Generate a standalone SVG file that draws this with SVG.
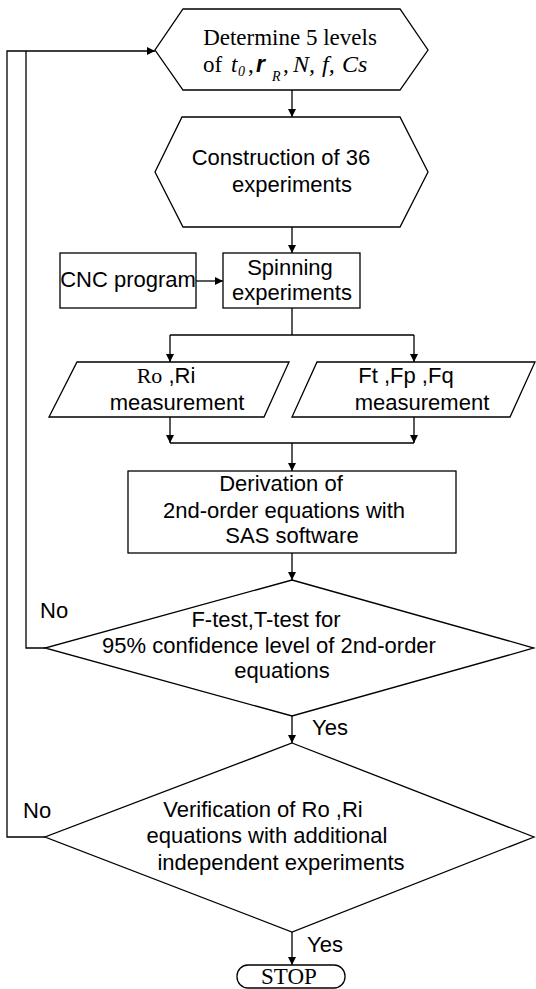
<svg xmlns="http://www.w3.org/2000/svg" width="536" height="989" viewBox="0 0 536 989">
  <style>
    .shape { fill: #ffffff; stroke: #000000; stroke-width: 1.3; }
    .line { fill: none; stroke: #000000; stroke-width: 1.3; }
    .sans { font-family: "Liberation Sans", Arial, sans-serif; font-size: 22px; fill: #000000; }
    .serif { font-family: "Liberation Serif", "Times New Roman", serif; font-size: 23px; fill: #000000; }
    .mid { text-anchor: middle; }
    .it { font-style: italic; }
    .sub { font-size: 14px; }
  </style>
  <defs>
    <marker id="arrow" viewBox="0 0 10 10" refX="10" refY="5" markerUnits="userSpaceOnUse" markerWidth="9" markerHeight="8" orient="auto">
      <path d="M0,0 L10,5 L0,10 z" fill="#000000"/>
    </marker>
  </defs>

  <!-- connectors -->
  <g id="connectors">
    <path class="line" d="M292,90 V117" marker-end="url(#arrow)"/>
    <path class="line" d="M292,227 V253" marker-end="url(#arrow)"/>
    <path class="line" d="M196,281 H223" marker-end="url(#arrow)"/>
    <path class="line" d="M292,308 V335"/>
    <path class="line" d="M170,335 H414"/>
    <path class="line" d="M170,335 V362" marker-end="url(#arrow)"/>
    <path class="line" d="M414,335 V362" marker-end="url(#arrow)"/>
    <path class="line" d="M170,417 V443" marker-end="url(#arrow)"/>
    <path class="line" d="M414,417 V443" marker-end="url(#arrow)"/>
    <path class="line" d="M170,443 H414"/>
    <path class="line" d="M292,443 V471" marker-end="url(#arrow)"/>
    <path class="line" d="M292,553 V580" marker-end="url(#arrow)"/>
    <path class="line" d="M292,716 V743" marker-end="url(#arrow)"/>
    <path class="line" d="M292,932 V965" marker-end="url(#arrow)"/>
    <!-- return loops -->
    <path class="line" d="M45,648 H26 V51"/>
    <path class="line" d="M45,837 H7 V51 H155" marker-end="url(#arrow)"/>
    <text class="sans" x="40" y="618">No</text>
    <text class="sans" x="312" y="735">Yes</text>
    <text class="sans" x="23" y="818">No</text>
    <text class="sans" x="307" y="952">Yes</text>
  </g>

  <g id="levels">
    <polygon class="shape" points="183,9 400,9 428,50 400,90 183,90 155,50"/>
    <text class="serif mid" x="290" y="45">Determine 5 levels</text>
    <text class="serif" y="72"><tspan x="203">of</tspan><tspan class="it" x="231">t</tspan><tspan class="it sub" x="238" y="76">0</tspan><tspan x="248" y="72">,</tspan><tspan class="it" x="256" font-weight="bold" font-family="Liberation Sans, Arial, sans-serif">r</tspan><tspan class="it sub" x="272" y="81">R</tspan><tspan x="283" y="72">,</tspan><tspan class="it" x="293" font-size="24">N,</tspan><tspan class="it" x="322" font-size="24">f,</tspan><tspan class="it" x="342" font-size="24">Cs</tspan></text>
  </g>

  <g id="construction">
    <polygon class="shape" points="182,117 400,117 428,172 400,227 183,227 155,172"/>
    <text class="sans mid" x="281" y="165">Construction of 36</text>
    <text class="sans mid" x="292" y="192">experiments</text>
  </g>

  <g id="cnc">
    <rect class="shape" x="60" y="253" width="136" height="55"/>
    <text class="sans mid" x="128" y="287">CNC program</text>
  </g>

  <g id="spinning">
    <rect class="shape" x="223" y="253" width="137" height="55"/>
    <text class="sans mid" x="290" y="275">Spinning</text>
    <text class="sans mid" x="292" y="300">experiments</text>
  </g>

  <g id="ro-ri">
    <polygon class="shape" points="77,362 289,362 264,417 49,417"/>
    <text class="sans mid" x="166" y="383"><tspan font-family="Liberation Serif, Times New Roman, serif">Ro</tspan> ,Ri</text>
    <text class="sans mid" x="177" y="410">measurement</text>
  </g>

  <g id="forces">
    <polygon class="shape" points="317,362 535,362 510,417 292,417"/>
    <text class="sans mid" x="406" y="383">Ft ,Fp ,Fq</text>
    <text class="sans mid" x="422" y="410">measurement</text>
  </g>

  <g id="derivation">
    <rect class="shape" x="128" y="471" width="328" height="82"/>
    <text class="sans mid" x="281" y="491">Derivation of</text>
    <text class="sans mid" x="284" y="518">2nd-order equations with</text>
    <text class="sans mid" x="292" y="543">SAS software</text>
  </g>

  <g id="significance">
    <polygon class="shape" points="292,580 534,648 292,716 45,648"/>
    <text class="sans mid" x="266" y="627">F-test,T-test for</text>
    <text class="sans mid" x="269" y="653">95% confidence level of 2nd-order</text>
    <text class="sans mid" x="282" y="678">equations</text>
  </g>

  <g id="verification">
    <polygon class="shape" points="292,743 534,837 292,932 45,837"/>
    <text class="sans mid" x="263" y="817">Verification of Ro ,Ri</text>
    <text class="sans mid" x="267" y="843">equations with additional</text>
    <text class="sans mid" x="281" y="870">independent experiments</text>
  </g>

  <g id="stop">
    <rect class="shape" x="237" y="965" width="108" height="23" rx="11" ry="11"/>
    <text class="serif mid" x="289" y="984" font-size="21">STOP</text>
  </g>
</svg>
